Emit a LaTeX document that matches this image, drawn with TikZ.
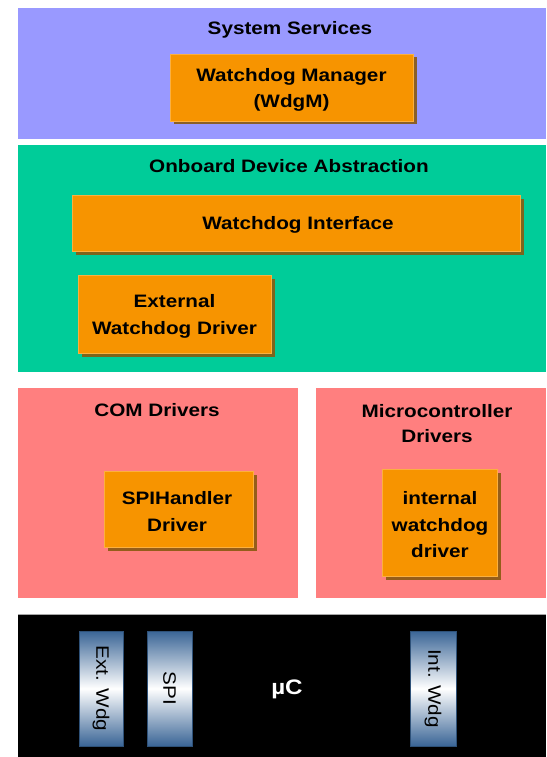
\documentclass[tikz,border=0pt]{standalone}
\usepackage{fontspec}
\setmainfont{Liberation Sans}[FakeStretch=1.15]
\usetikzlibrary{shadows}
\definecolor{ssblue}{HTML}{9999FF}
\definecolor{odagreen}{HTML}{00CC99}
\definecolor{drvpink}{HTML}{FF7F7F}
\definecolor{boxorange}{HTML}{F79400}
\definecolor{boxedge}{HTML}{FBB040}
\definecolor{shadowbrown}{HTML}{8A5A10}
\definecolor{bardark}{HTML}{3A6596}
\begin{document}
\begin{tikzpicture}[x=1pt,y=-1pt,
  layer/.style={anchor=north west, inner sep=0pt, outer sep=0pt},
  title/.style={font=\fontsize{18}{25}\selectfont\bfseries, align=center, inner sep=0pt},
  obox/.style={fill=boxorange, draw=boxedge, line width=0.6pt, inner sep=0pt,
    font=\fontsize{18}{26.5}\selectfont\bfseries, align=center,
    drop shadow={shadow xshift=3.5pt, shadow yshift=-3.5pt, fill=shadowbrown, opacity=0.9}},
  boxtext/.style={font=\fontsize{18}{26.5}\selectfont\bfseries, align=center, inner sep=0pt},
  bar/.style={draw=bardark!80!black, line width=0.4pt, top color=bardark, bottom color=bardark, middle color=white,
    minimum width=44pt, minimum height=115pt, inner sep=0pt},
  bartext/.style={font=\fontsize{18}{22}\selectfont, rotate=-90, inner sep=0pt}
]
\useasboundingbox (0,0) rectangle (546,757);
\fill[white] (0,0) rectangle (546,757);

% layers
\node[layer, fill=ssblue, minimum width=528pt, minimum height=131pt] (ss) at (18,8) {};
\node[layer, fill=odagreen, minimum width=528pt, minimum height=227pt] (oda) at (18,145) {};
\node[layer, fill=drvpink, minimum width=280pt, minimum height=210pt] (com) at (18,388) {};
\node[layer, fill=drvpink, minimum width=230pt, minimum height=210pt] (mcu) at (316,388) {};
\node[layer, fill=black, minimum width=528pt, minimum height=143pt] (uc) at (18,614) {};
\draw[gray!70, line width=0.6pt] (uc.north west) -- (uc.north east);

% titles
\node[title] (ssT) at (290,30) {System Services};
\node[title] (odaT) at (289,166) {Onboard Device Abstraction};
\node[title] (comT) at (157,410) {COM Drivers};
\node[title] (mcuT) at (437,424) {Microcontroller\\Drivers};

% orange boxes
\node[obox, minimum width=243pt, minimum height=67pt] (wdgm) at (291.5,87.5) {};
\node[boxtext] (wdgmT) at (291.5,90) {Watchdog Manager\\(WdgM)};
\node[obox, minimum width=448pt, minimum height=56pt] (wdgif) at (296,223) {};
\node[boxtext] (wdgifT) at (298,225) {Watchdog Interface};
\node[obox, minimum width=193pt, minimum height=78pt] (extdrv) at (174.5,314) {};
\node[boxtext] (extdrvT) at (174.5,316.5) {External\\Watchdog Driver};
\node[obox, minimum width=149pt, minimum height=76pt] (spidrv) at (178.5,509) {};
\node[boxtext] (spidrvT) at (177,511.5) {SPIHandler\\Driver};
\node[obox, minimum width=115pt, minimum height=107pt] (intdrv) at (439.5,522.5) {};
\node[boxtext] (intdrvT) at (440,525) {internal\\watchdog\\driver};

% microcontroller
\node[font=\fontsize{21}{24}\selectfont\bfseries, text=white, inner sep=0pt] (ucT) at (287,689) {µC};
\node[bar] (extbar) at (101,688.5) {};
\node[bartext] (extT) at (extbar.center) {Ext. Wdg};
\node[bar, minimum width=45pt] (spibar) at (169.5,688.5) {};
\node[bartext] (spiT) at (spibar.center) {SPI};
\node[bar, minimum width=46pt] (intbar) at (433,688.5) {};
\node[bartext] (intT) at (intbar.center) {Int. Wdg};
\end{tikzpicture}
\end{document}
